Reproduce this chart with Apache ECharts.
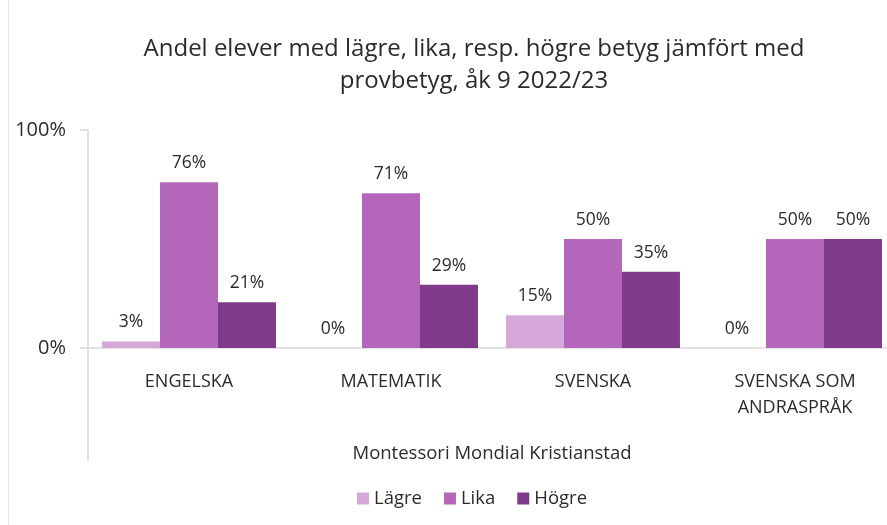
<!DOCTYPE html>
<html>
<head>
<meta charset="utf-8">
<script src="https://cdn.jsdelivr.net/npm/echarts@6/dist/echarts.min.js"></script>
<style>html,body{margin:0;padding:0;background:#fff}#c{width:887px;height:525px}</style>
</head>
<body>
<div id="c"></div>
<script>
const categories = ['ENGELSKA', 'MATEMATIK', 'SVENSKA', 'SVENSKA SOM\nANDRASPRÅK'];
const seriesNames = ['Lägre', 'Lika', 'Högre'];
const lagre = [0.03, 0.00, 0.15, 0.00];
const lika = [0.76, 0.71, 0.50, 0.50];
const hogre = [0.21, 0.29, 0.35, 0.50];
const yTickValues = [0, 1];
const colors = ['#D5A8D9', '#B366BA', '#7F3B89'];

const font = '"Open Sans", Lato, sans-serif';
const textColor = '#2b2b2b';
const chart = echarts.init(document.getElementById('c'), null, {renderer: 'canvas'});
function mk(name, data, i) {
  return {
    name: name, type: 'bar', data: data,
    barGap: '0%', barCategoryGap: '13.9%',
    itemStyle: {color: colors[i]},
    label: {show: true, position: 'top', distance: 10, fontFamily: font, fontSize: 17.5, color: textColor,
      formatter: p => Math.round(p.value * 100) + '%'}
  };
}
chart.setOption({
  animation: false,
  textStyle: {fontFamily: font},
  title: {
    text: 'Andel elever med lägre, lika, resp. högre betyg jämfört med\nprovbetyg, åk 9 2022/23',
    left: 469, textAlign: 'center', top: 28,
    textStyle: {fontFamily: font, fontSize: 24, fontWeight: 'normal', color: textColor, lineHeight: 32}
  },
  legend: {
    data: seriesNames, bottom: 12, left: 352, itemWidth: 12, itemHeight: 12, itemGap: 22,
    icon: 'rect', textStyle: {fontFamily: font, fontSize: 18.5, color: textColor}
  },
  grid: {left: 88, right: -9, top: 130, bottom: 177, containLabel: false, outerBoundsMode: 'none'},
  xAxis: {
    type: 'category', data: categories,
    axisLine: {lineStyle: {color: '#d9d9d9', width: 1.5}},
    axisTick: {show: false},
    axisLabel: {fontFamily: font, fontSize: 18, color: textColor, margin: 21, lineHeight: 26},
    name: 'Montessori Mondial Kristianstad', nameLocation: 'middle', nameGap: 96,
    nameTextStyle: {fontFamily: font, fontSize: 18.5, color: textColor}
  },
  yAxis: {
    type: 'value', min: 0, max: 1, interval: 1,
    splitLine: {show: false},
    axisLine: {show: true, lineStyle: {color: '#d9d9d9', width: 1.5}},
    axisTick: {show: true, length: 8, lineStyle: {color: '#d9d9d9', width: 1.5}},
    axisLabel: {fontFamily: font, fontSize: 20, color: textColor, margin: 22,
      formatter: v => Math.round(v * 100) + '%'}
  },
  graphic: [
    {type: 'line', shape: {x1: 8.5, y1: 0, x2: 8.5, y2: 525}, style: {stroke: '#e6e6e6', lineWidth: 1}},
    {type: 'line', shape: {x1: 88, y1: 348, x2: 88, y2: 462}, style: {stroke: '#d9d9d9', lineWidth: 1.5}}
  ],
  series: [mk(seriesNames[0], lagre, 0), mk(seriesNames[1], lika, 1), mk(seriesNames[2], hogre, 2)]
});
</script>
</body>
</html>
